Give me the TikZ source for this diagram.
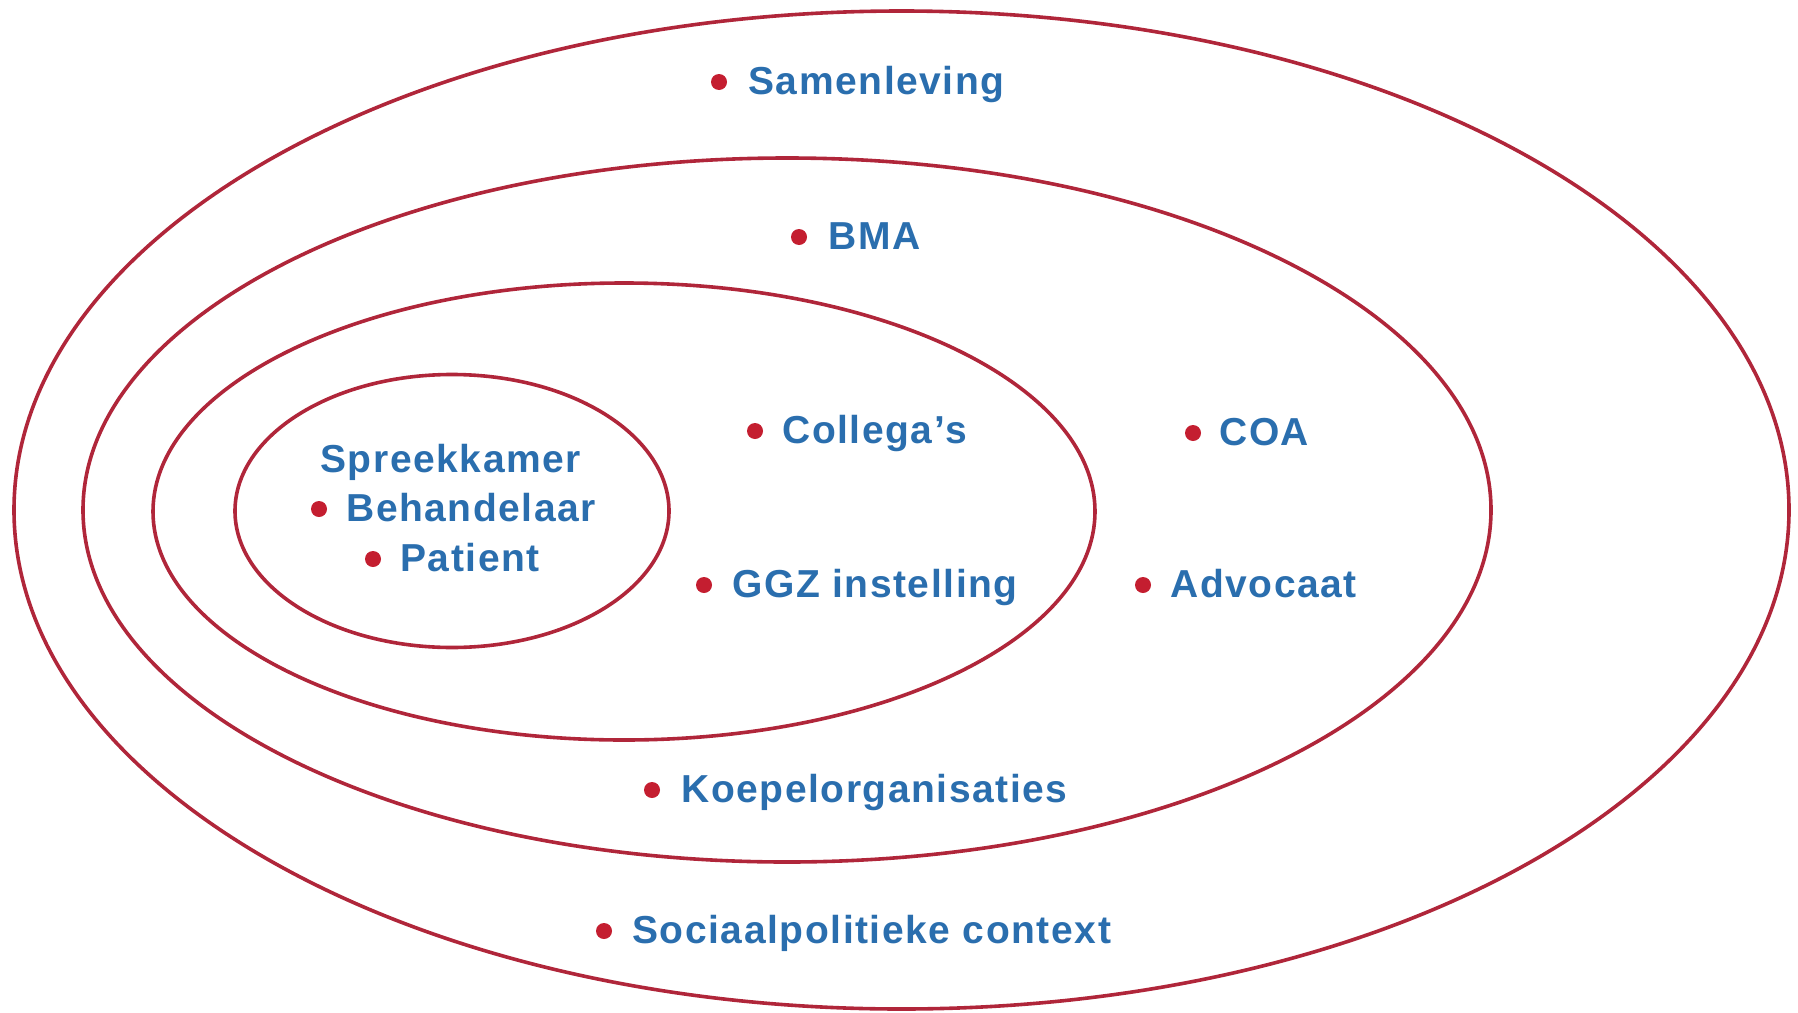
\documentclass[tikz,border=0pt]{standalone}
\usepackage{fontspec}
\setmainfont{Liberation Sans}
\newfontfamily\lblfont[LetterSpace=4]{Liberation Sans}
\definecolor{ringred}{RGB}{176,38,58}
\definecolor{dotred}{RGB}{196,30,48}
\definecolor{lblblue}{RGB}{42,110,174}
\begin{document}
\begin{tikzpicture}[x=0.5pt,y=-0.5pt,
  ring/.style={draw=ringred,line width=1.8pt},
  dot/.style={circle,fill=dotred,inner sep=0pt,minimum size=8pt},
  lbl/.style={anchor=base west,inner sep=0pt,text=lblblue,
    font=\lblfont\bfseries\fontsize{19.5}{23}\selectfont}]
\useasboundingbox (0,0) rectangle (1798,1012);
% nested rings
\draw[ring] (901.5,510) ellipse [x radius=887.5, y radius=499];
\draw[ring] (787,510) ellipse [x radius=704, y radius=352];
\draw[ring] (624,511.5) ellipse [x radius=471, y radius=228.5];
\draw[ring] (452,511) ellipse [x radius=217, y radius=136.5];
% outer ring
\node[dot] (samen-dot) at (719,82) {};
\node[lbl] (samen) at (748,94) {Samenleving};
\node[dot] (soc-dot) at (604,931) {};
\node[lbl] (soc) at (632,943) {Sociaalpolitieke context};
% second ring
\node[dot] (bma-dot) at (799,237) {};
\node[lbl] (bma) at (828,249) {BMA};
\node[dot] (coa-dot) at (1193,433) {};
\node[lbl] (coa) at (1219,445) {COA};
\node[dot] (adv-dot) at (1143,585) {};
\node[lbl] (adv) at (1170,597) {Advocaat};
\node[dot] (koep-dot) at (652,790) {};
\node[lbl] (koep) at (681,802) {Koepelorganisaties};
% third ring
\node[dot] (coll-dot) at (755,431) {};
\node[lbl] (coll) at (782,443) {Collega’s};
\node[dot] (ggz-dot) at (704,585) {};
\node[lbl] (ggz) at (732,597) {GGZ instelling};
% inner ring
\node[lbl] (spreek) at (320,472) {Spreekkamer};
\node[dot] (beh-dot) at (319,509) {};
\node[lbl] (beh) at (346,521) {Behandelaar};
\node[dot] (pat-dot) at (373,559) {};
\node[lbl] (pat) at (400,571) {Patient};
\end{tikzpicture}
\end{document}
